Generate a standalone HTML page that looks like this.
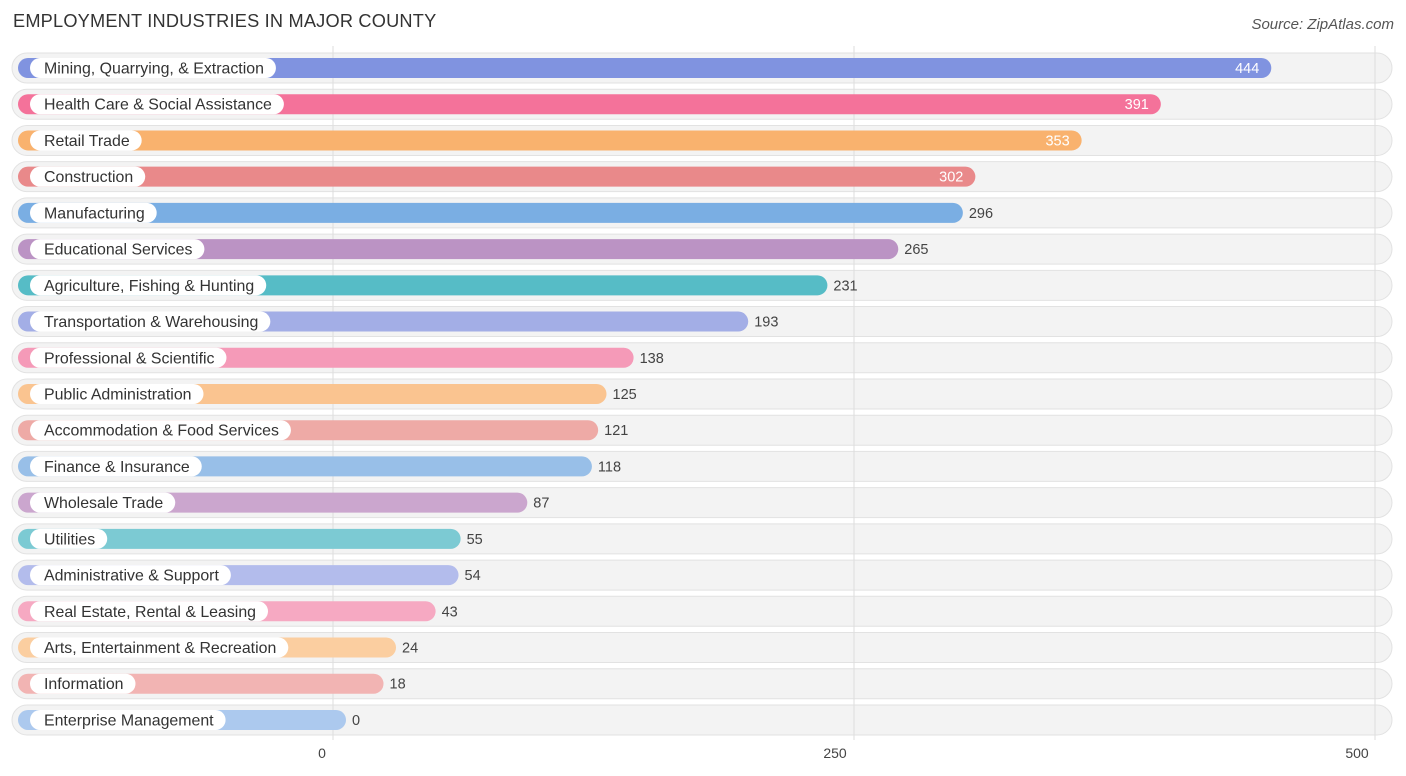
<!DOCTYPE html>
<html><head><meta charset="utf-8">
<style>
body{margin:0;background:#fff;font-family:"Liberation Sans",sans-serif;}
#c{position:relative;width:1406px;height:776px;overflow:hidden;}
.title{position:absolute;left:13px;top:11px;font-size:18.2px;color:#333;letter-spacing:0.2px}
.src{position:absolute;right:12px;top:16px;font-size:15px;color:#555;font-style:italic}
</style></head><body>
<div id="c">
<div class="title">EMPLOYMENT INDUSTRIES IN MAJOR COUNTY</div>
<div class="src">Source: ZipAtlas.com</div>
<svg id="s" width="1406" height="776" style="position:absolute;left:0;top:0"></svg>
</div>
<script>
const categories=["Mining, Quarrying, & Extraction","Health Care & Social Assistance","Retail Trade","Construction","Manufacturing","Educational Services","Agriculture, Fishing & Hunting","Transportation & Warehousing","Professional & Scientific","Public Administration","Accommodation & Food Services","Finance & Insurance","Wholesale Trade","Utilities","Administrative & Support","Real Estate, Rental & Leasing","Arts, Entertainment & Recreation","Information","Enterprise Management"];
const values=[444,391,353,302,296,265,231,193,138,125,121,118,87,55,54,43,24,18,0];
const colors=["#8093e0","#f4729a","#f9b26e","#e9898a","#7aaee3","#bb93c4","#56bcc6","#a3aee6","#f59ab8","#fac490","#eeaaa6","#98bfe8","#cba6ce","#7ccad3","#b3bcec","#f6a9c2","#fbcea0","#f2b4b3","#acc9ee"];
const ticks=[0,250,500];
const NS="http://www.w3.org/2000/svg";
const s=document.getElementById('s');
const x0=333,scale=(1375-333)/500;
const xg=v=>x0+v*scale;
const barEnd=v=>346+v*scale;
const rowY=i=>68+i*36.22;
function mk(t,a){const e=document.createElementNS(NS,t);for(const k in a)e.setAttribute(k,a[k]);s.appendChild(e);return e;}
categories.forEach((c,i)=>{
 const r=mk('rect',{x:12,y:rowY(i)-15,width:1380,height:30,rx:15,fill:'#f3f3f3',stroke:'#e2e2e2','stroke-width':1});
 
 
});
ticks.forEach(t=>{
 const l=mk('line',{x1:xg(t),x2:xg(t),y1:46,y2:740,stroke:'#dddddd','stroke-width':1});
 
 
 const tx=mk('text',{x:xg(t)-(t===0?11:(t===500?18:19)),y:758,'font-size':14,fill:'#444','text-anchor':'middle'});
 tx.textContent=t;
 
 
});
categories.forEach((c,i)=>{
 const y=rowY(i);
 const b=mk('rect',{x:18,y:y-10,width:barEnd(values[i])-18,height:20,rx:10,fill:colors[i]});
 
 
 const lab=mk('text',{x:44,y:y+5.5,'font-size':15.9,fill:'#333'});
 lab.textContent=c;
 
 
 const w=lab.getComputedTextLength();
 const p=mk('rect',{x:30,y:y-10,width:w+26,height:20,rx:10,fill:'#fff'});
 
 
 s.appendChild(lab);
 const inside=values[i]>300;
 const vt=mk('text',{x:inside?barEnd(values[i])-12:barEnd(values[i])+6,y:y+5,'font-size':14.5,fill:inside?'#fff':'#444','text-anchor':inside?'end':'start'});
 vt.textContent=values[i];
 
 
});
</script>
</body></html>
